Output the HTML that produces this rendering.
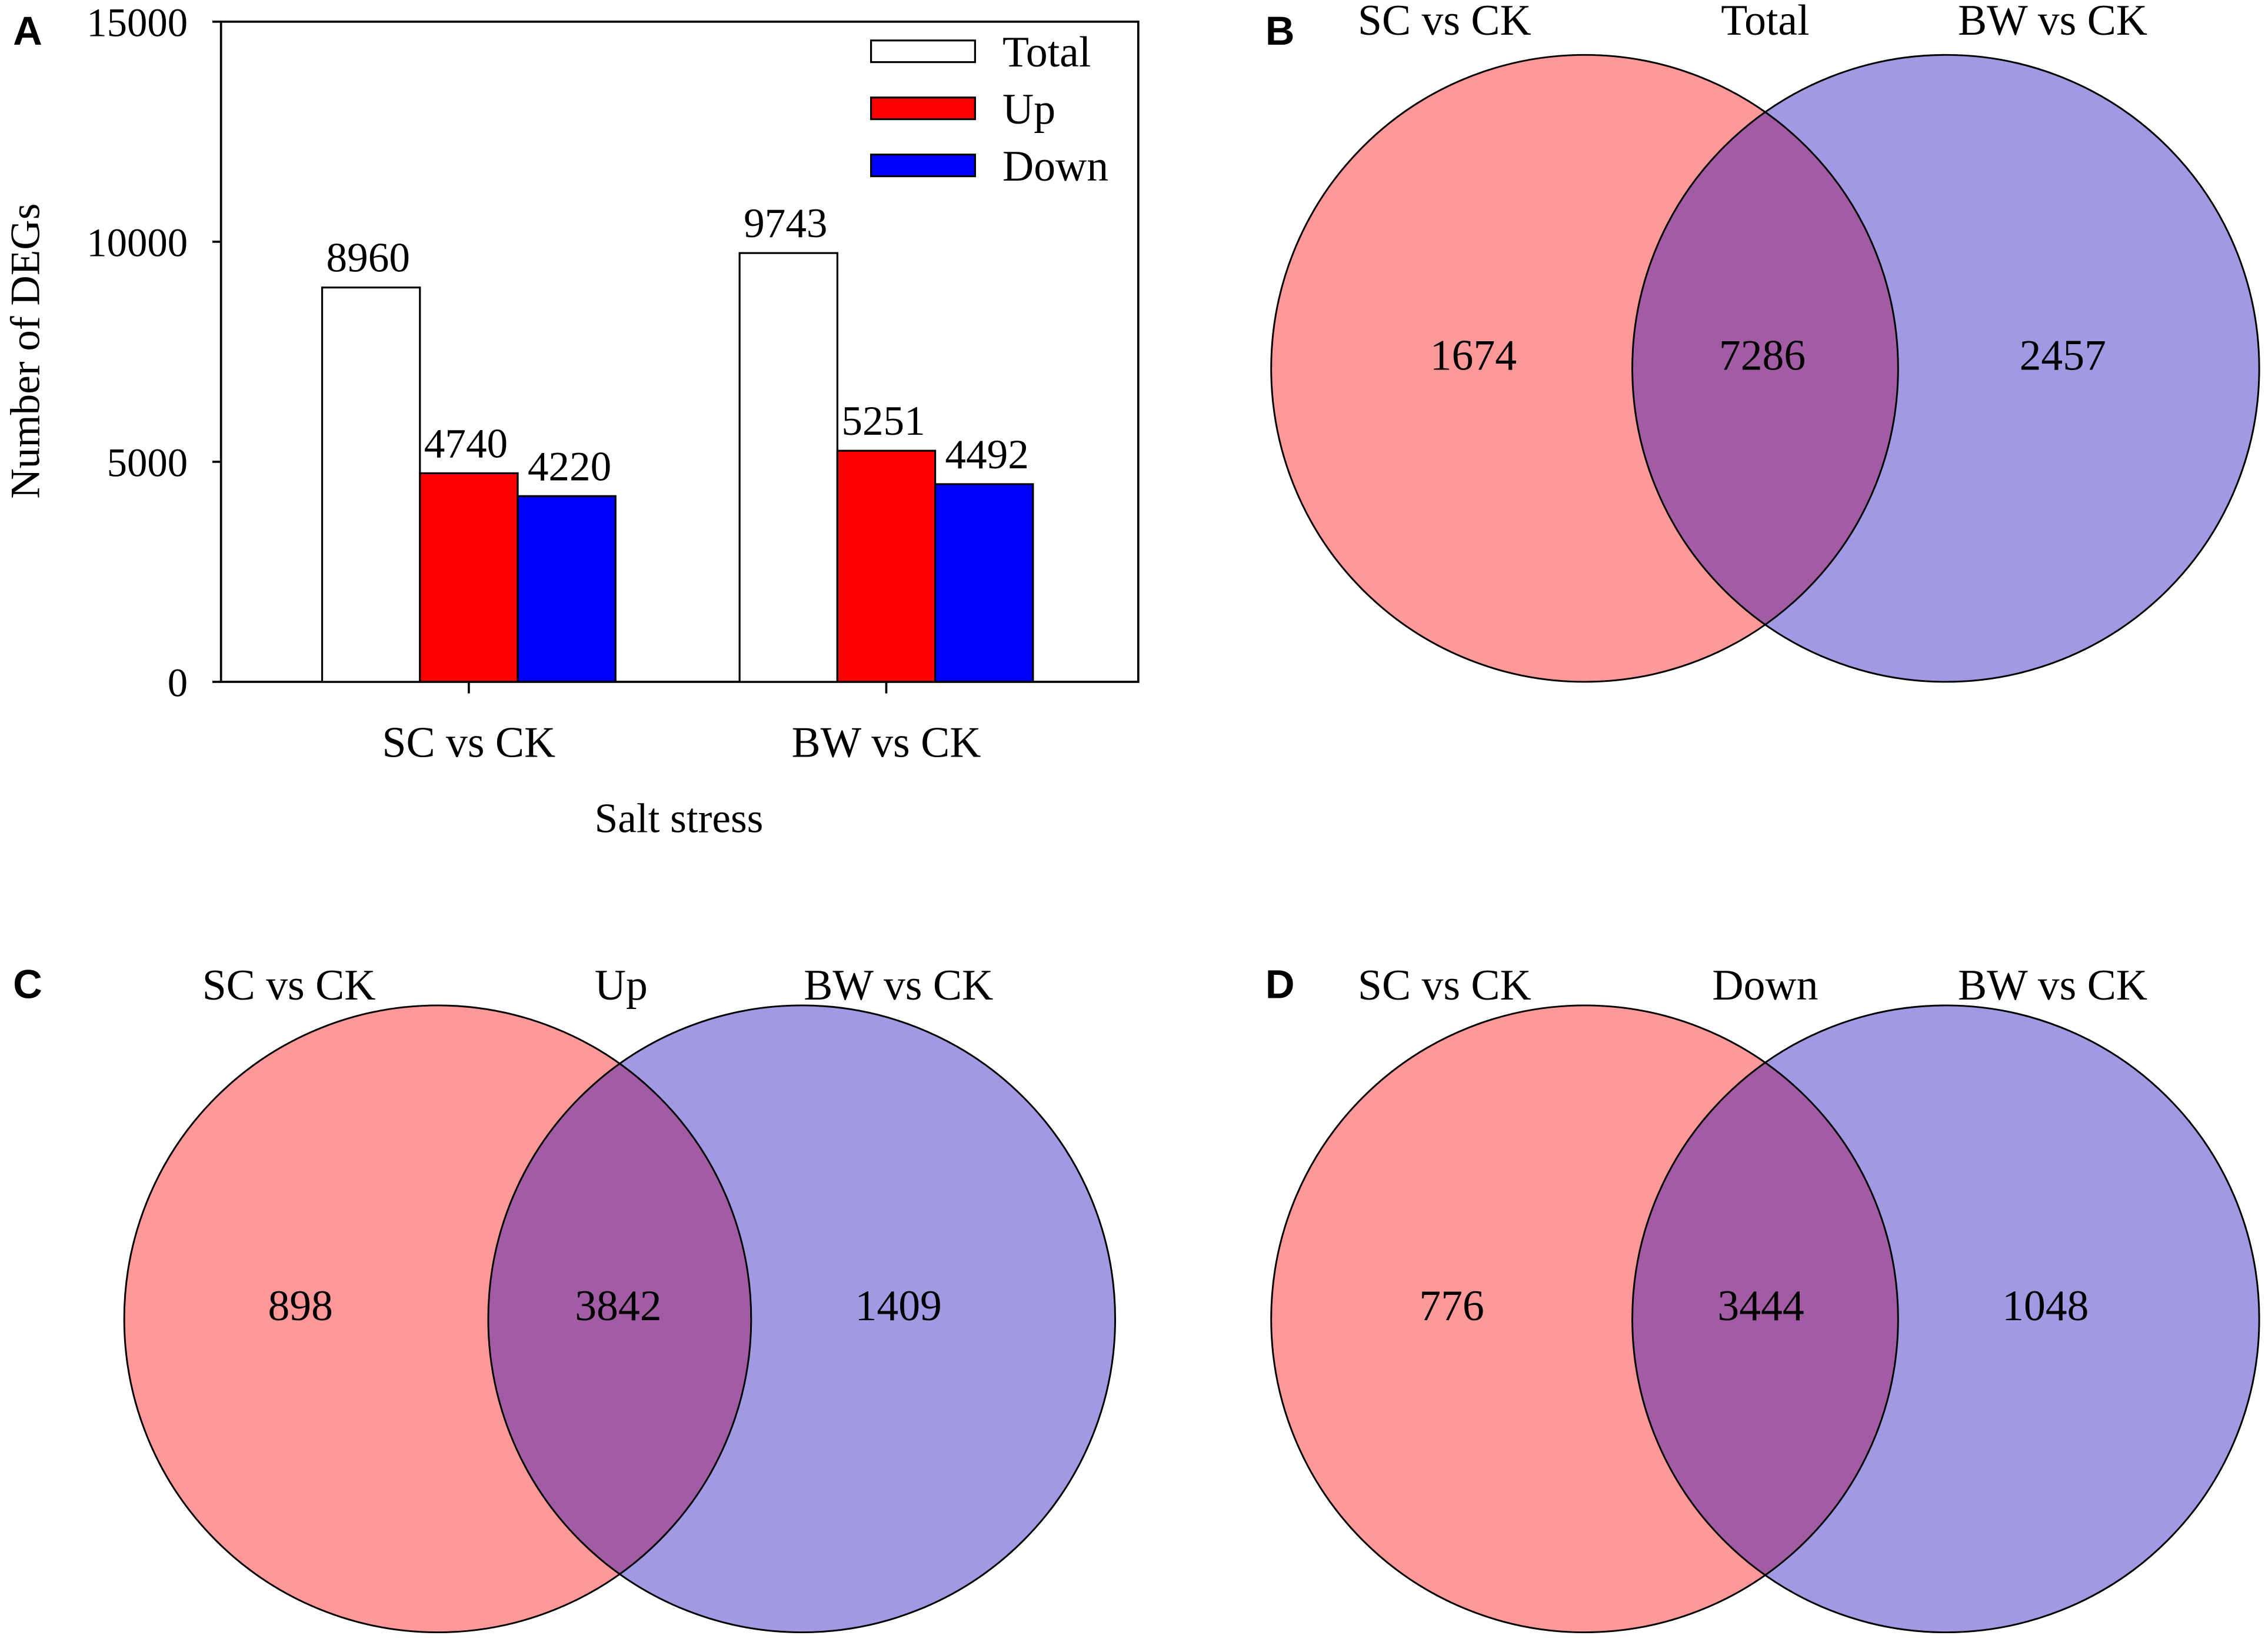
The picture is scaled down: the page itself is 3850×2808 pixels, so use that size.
<!DOCTYPE html>
<html><head><meta charset="utf-8"><style>
html,body{margin:0;padding:0;background:#fff;}
svg{display:block;}
text{font-family:"Liberation Serif",serif;fill:#000;}
.lbl{font-family:"Liberation Sans",sans-serif;font-weight:bold;}
</style></head><body>
<svg id="fig" width="3850" height="2808" viewBox="0 0 1568 1143.6" xmlns="http://www.w3.org/2000/svg">
<rect x="0" y="0" width="1568" height="1144" fill="#fff"/>
<g id="panelA"></g>
<g id="venns"></g>
</svg>
<script>
const NS="http://www.w3.org/2000/svg";
const categories=["SC vs CK","BW vs CK"];
const seriesNames=["Total","Up","Down"];
const totalVals=[8960,9743];
const upVals=[4740,5251];
const downVals=[4220,4492];
const yTicks=[0,5000,10000,15000];
const vennTitles=["Total","Up","Down"];
const vennLeft=[1674,898,776];
const vennMid=[7286,3842,3444];
const vennRight=[2457,1409,1048];

function mk(tag,attrs,parent,txt){const e=document.createElementNS(NS,tag);for(const k in attrs)e.setAttribute(k,attrs[k]);if(txt!==undefined)e.textContent=txt;parent.appendChild(e);return e;}

const A=document.getElementById('panelA');
const px0=153,px1=788,py0=472,py1=15;
const yS=v=>py0-(v/15000)*(py0-py1);
let t;
t=mk('text',{x:9,y:31,'font-size':28,class:'lbl'},A,'A');

t=mk('rect',{x:px0,y:py1,width:px1-px0,height:py0-py1,fill:'none',stroke:'#000','stroke-width':1.5},A);

yTicks.forEach(v=>{
 mk('line',{x1:px0-6,x2:px0,y1:yS(v),y2:yS(v),stroke:'#000','stroke-width':1.5},A);
 t=mk('text',{x:130,y:yS(v)+10,'font-size':28,'text-anchor':'end'},A,String(v));
 
});
t=mk('text',{x:0,y:0,'font-size':29,'text-anchor':'middle',transform:'translate(27,243) rotate(-90)'},A,'Number of DEGs');

t=mk('text',{x:470,y:576,'font-size':29,'text-anchor':'middle'},A,'Salt stress');

const groupStart=[223,512],bw=67.7;
const colors=['#ffffff','#ff0000','#0000ff'];
const all=[totalVals,upVals,downVals];
categories.forEach((c,i)=>{
 const cx=groupStart[i]+bw*1.5;
 mk('line',{x1:cx,x2:cx,y1:py0,y2:py0+8,stroke:'#000','stroke-width':1.5},A);
 t=mk('text',{x:cx,y:524,'font-size':30,'text-anchor':'middle'},A,c);
 
 all.forEach((arr,s)=>{
  const x=groupStart[i]+bw*s,v=arr[i];
  t=mk('rect',{x:x,y:yS(v),width:bw,height:py0-yS(v),fill:colors[s],stroke:'#000','stroke-width':1.3},A);
  
  t=mk('text',{x:x+bw/2+(s==2?2:-2),y:yS(v)-11,'font-size':29,'text-anchor':'middle'},A,String(v));
  
 });
});
seriesNames.forEach((n,s)=>{
 const y=28+s*39.5;
 t=mk('rect',{x:603,y:y,width:72,height:15,fill:colors[s],stroke:'#000','stroke-width':1.3},A);
 
 t=mk('text',{x:694,y:y+18,'font-size':30},A,n);
 
});

const V=document.getElementById('venns');
const vpos=[{lx:1097,rx:1347,cy:255,ty:24,tx:[1000,1222,1421],nx:[1020,1220,1428],L:'B',ly:31,lxx:876},
 {lx:303,rx:555,cy:913,ty:692,tx:[200,430,622],nx:[208,428,622],L:'C',ly:691,lxx:9},
 {lx:1097,rx:1347,cy:913,ty:692,tx:[1000,1222,1421],nx:[1005,1219,1416],L:'D',ly:691,lxx:876}];
const R=217;
vpos.forEach((p,i)=>{
 const g=mk('g',{},V);
 
 t=mk('text',{x:p.lxx,y:p.ly,'font-size':28,class:'lbl'},g,p.L);
 
 const cid='clip'+i;
 const cp=mk('clipPath',{id:cid},g);mk('circle',{cx:p.lx,cy:p.cy,r:R},cp);
 t=mk('circle',{cx:p.lx,cy:p.cy,r:R,fill:'#ff9999'},g);
 
 t=mk('circle',{cx:p.rx,cy:p.cy,r:R,fill:'#a299e3'},g);
 
 t=mk('circle',{cx:p.rx,cy:p.cy,r:R,fill:'#a15ca4','clip-path':'url(#'+cid+')'},g);
 
 mk('circle',{cx:p.lx,cy:p.cy,r:R,fill:'none',stroke:'#000','stroke-width':1.2},g);
 mk('circle',{cx:p.rx,cy:p.cy,r:R,fill:'none',stroke:'#000','stroke-width':1.2},g);
 [categories[0],vennTitles[i],categories[1]].forEach((s,k)=>{
  t=mk('text',{x:p.tx[k],y:p.ty,'font-size':30,'text-anchor':'middle'},g,s);
  
 });
 [vennLeft[i],vennMid[i],vennRight[i]].forEach((v,k)=>{
  t=mk('text',{x:p.nx[k],y:p.cy+1,'font-size':30,'text-anchor':'middle'},g,String(v));
  
 });
});
</script>
</body></html>
